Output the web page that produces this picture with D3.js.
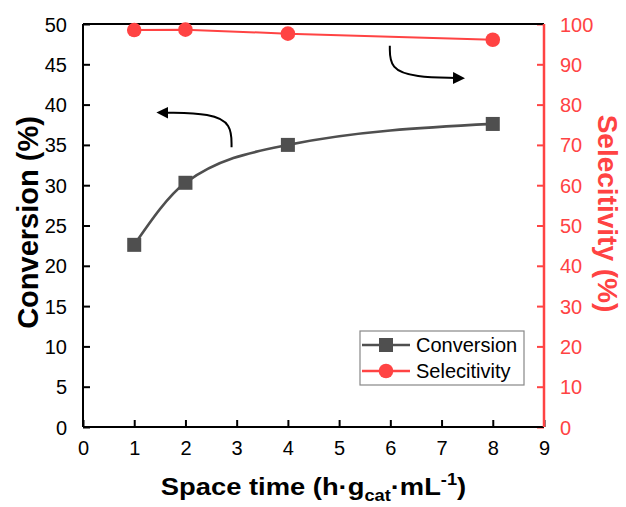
<!DOCTYPE html>
<html>
<head>
<meta charset="utf-8">
<script src="https://cdn.jsdelivr.net/npm/d3@7"></script>
<style>
  body { margin: 0; background: #fff; }
  text { font-family: "Liberation Sans", Arial, sans-serif; }
</style>
</head>
<body>
<div id="chart"></div>
<script>
// data
const spaceTime = [1, 2, 4, 8];
const conversion = [22.6, 30.3, 35.0, 37.6];
const selectivity = [98.5, 98.6, 97.6, 96.1];

const xTicks = [0, 1, 2, 3, 4, 5, 6, 7, 8, 9];
const convTicks = [0, 5, 10, 15, 20, 25, 30, 35, 40, 45, 50];
const selTicks = [0, 10, 20, 30, 40, 50, 60, 70, 80, 90, 100];

// curved arrows, in data units (x, conversion %)
const arrowLeft = [[2.9, 34.7], [2.9, 37.6], [2.5, 38.9], [1.62, 39.0]];
const arrowRight = [[5.99, 47.3], [5.99, 44.4], [6.5, 43.4], [7.27, 43.3]];

const width = 626, height = 507;
const margin = { top: 24, right: 82, bottom: 80, left: 83 };
const grey = "#4f4f4f", red = "#ff4343";

const svg = d3.select("#chart").append("svg")
  .attr("width", width)
  .attr("height", height);

svg.append("defs").append("marker")
  .attr("id", "head")
  .attr("viewBox", "0 0 10 10")
  .attr("refX", 2).attr("refY", 5)
  .attr("markerWidth", 6).attr("markerHeight", 6)
  .attr("markerUnits", "strokeWidth")
  .attr("orient", "auto")
  .append("path")
  .attr("d", "M0,0 L10,5 L0,10 Z")
  .attr("fill", "#000");

const x = d3.scaleLinear().domain([0, 9]).range([margin.left, width - margin.right]);
const yL = d3.scaleLinear().domain([0, 50]).range([height - margin.bottom, margin.top]);
const yR = d3.scaleLinear().domain([0, 100]).range([height - margin.bottom, margin.top]);

/* axes: ticks point inward, minor ticks halfway */
function minor(ticks) {
  return ticks.slice(0, -1).map((t, i) => (t + ticks[i + 1]) / 2);
}

const gx = svg.append("g").attr("transform", `translate(0,${yL(0)})`);
gx.call(d3.axisBottom(x).tickValues(minor(xTicks)).tickSize(-4).tickFormat(""));
gx.call(d3.axisBottom(x).tickValues(xTicks).tickSize(-7).tickPadding(14).tickSizeOuter(0));

const gl = svg.append("g").attr("transform", `translate(${x(0)},0)`);
gl.call(d3.axisLeft(yL).tickValues(minor(convTicks)).tickSize(-4).tickFormat(""));
gl.call(d3.axisLeft(yL).tickValues(convTicks).tickSize(-7).tickPadding(16).tickSizeOuter(0));

const gr = svg.append("g").attr("transform", `translate(${x(9)},0)`);
gr.call(d3.axisRight(yR).tickValues(minor(selTicks)).tickSize(-4).tickFormat(""));
gr.call(d3.axisRight(yR).tickValues(selTicks).tickSize(-7).tickPadding(16).tickSizeOuter(0));

[gx, gl, gr].forEach(g => {
  g.selectAll(".domain").remove();
  g.selectAll(".tick line").attr("stroke-width", 2);
  g.selectAll(".tick text").attr("font-size", 20).attr("font-family", "Liberation Sans, Arial, sans-serif");
});
gx.selectAll(".tick line").attr("stroke", "#000");
gl.selectAll(".tick line").attr("stroke", "#000");
gx.selectAll(".tick text").attr("fill", "#000");
gl.selectAll(".tick text").attr("fill", "#000").attr("dy", "0.35em");
gr.selectAll(".tick line").attr("stroke", red);
gr.selectAll(".tick text").attr("fill", red).attr("dy", "0.35em");

// frame lines
svg.append("line").attr("x1", x(0)).attr("x2", x(9)).attr("y1", yL(50)).attr("y2", yL(50))
  .attr("stroke", "#000").attr("stroke-width", 2);
svg.append("line").attr("x1", x(0)).attr("x2", x(9)).attr("y1", yL(0)).attr("y2", yL(0))
  .attr("stroke", "#000").attr("stroke-width", 2);
svg.append("line").attr("x1", x(0)).attr("x2", x(0)).attr("y1", yL(0)).attr("y2", yL(50))
  .attr("stroke", "#000").attr("stroke-width", 2);
svg.append("line").attr("x1", x(9)).attr("x2", x(9)).attr("y1", yR(0)).attr("y2", yR(100))
  .attr("stroke", red).attr("stroke-width", 2.5);

// series
const convData = spaceTime.map((t, i) => [t, conversion[i]]);
const selData = spaceTime.map((t, i) => [t, selectivity[i]]);

svg.append("path")
  .datum(selData)
  .attr("fill", "none")
  .attr("stroke", red)
  .attr("stroke-width", 2)
  .attr("d", d3.line().x(d => x(d[0])).y(d => yR(d[1])));

svg.append("path")
  .datum(convData)
  .attr("fill", "none")
  .attr("stroke", grey)
  .attr("stroke-width", 2.7)
  .attr("d", d3.line().curve(d3.curveMonotoneX).x(d => x(d[0])).y(d => yL(d[1])));

svg.selectAll("rect.pt").data(convData).enter().append("rect")
  .attr("class", "pt")
  .attr("x", d => x(d[0]) - 7).attr("y", d => yL(d[1]) - 7)
  .attr("width", 14).attr("height", 14)
  .attr("fill", grey);

svg.selectAll("circle.pt").data(selData).enter().append("circle")
  .attr("class", "pt")
  .attr("cx", d => x(d[0])).attr("cy", d => yR(d[1]))
  .attr("r", 7.3)
  .attr("fill", red);

// arrows
const arrowLine = d3.line().curve(d3.curveBasis).x(d => x(d[0])).y(d => yL(d[1]));
[arrowLeft, arrowRight].forEach(a => {
  svg.append("path")
    .attr("d", arrowLine(a))
    .attr("fill", "none")
    .attr("stroke", "#000")
    .attr("stroke-width", 2)
    .attr("marker-end", "url(#head)");
});

// legend
const legend = svg.append("g").attr("transform", "translate(360,331)");
legend.append("rect")
  .attr("width", 164).attr("height", 54)
  .attr("fill", "#fff").attr("stroke", "#888").attr("stroke-width", 1.2);
const items = [
  { label: "Conversion", color: grey, shape: "square" },
  { label: "Selecitivity", color: red, shape: "circle" }
];
items.forEach((it, i) => {
  const g = legend.append("g").attr("transform", `translate(0,${14 + i * 26})`);
  g.append("line").attr("x1", 2).attr("x2", 50).attr("stroke", it.color).attr("stroke-width", 2.5);
  if (it.shape === "square") {
    g.append("rect").attr("x", 19).attr("y", -7).attr("width", 14).attr("height", 14).attr("fill", it.color);
  } else {
    g.append("circle").attr("cx", 26).attr("r", 7.3).attr("fill", it.color);
  }
  g.append("text").attr("x", 56).attr("dy", "0.35em").attr("font-size", 20).attr("fill", "#000").text(it.label);
});

// axis titles
const xt = svg.append("text")
  .attr("transform", `translate(${(x(0) + x(9)) / 2},495) scale(1.14,1)`)
  .attr("text-anchor", "middle")
  .attr("font-size", 24).attr("font-weight", "bold").attr("fill", "#000");
xt.append("tspan").text("Space time (h\u00b7g");
xt.append("tspan").attr("font-size", 16).attr("dy", 6).text("cat");
xt.append("tspan").attr("dy", -6).text("\u00b7mL");
xt.append("tspan").attr("font-size", 16).attr("dy", -10).text("-1");
xt.append("tspan").attr("dy", 10).text(")");

svg.append("text")
  .attr("transform", `translate(38,${(yL(0) + yL(50)) / 2 - 3}) rotate(-90)`)
  .attr("text-anchor", "middle")
  .attr("font-size", 29).attr("font-weight", "bold").attr("fill", "#000")
  .text("Conversion (%)");

svg.append("text")
  .attr("transform", `translate(598,${(yL(0) + yL(50)) / 2 - 12}) rotate(90)`)
  .attr("text-anchor", "middle")
  .attr("font-size", 28).attr("font-weight", "bold").attr("fill", red)
  .text("Selecitivity (%)");
</script>
</body>
</html>
